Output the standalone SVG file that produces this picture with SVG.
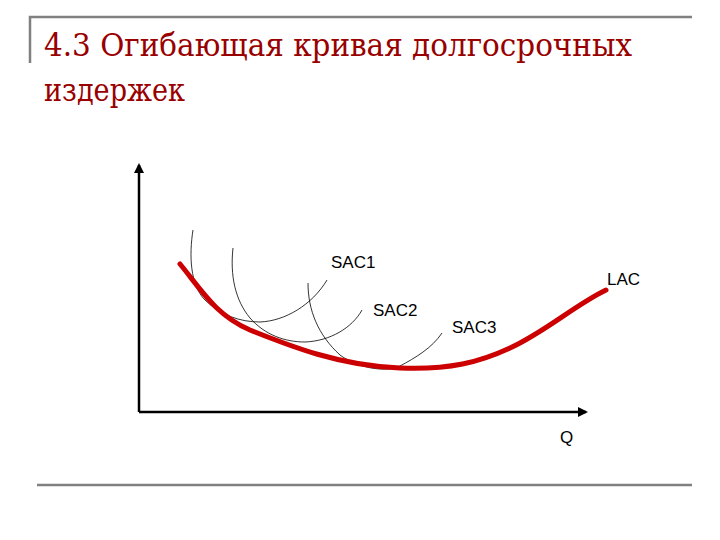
<svg xmlns="http://www.w3.org/2000/svg" width="720" height="540" viewBox="0 0 720 540">
<defs>
<style>
.title{font-family:'DejaVu Serif','Liberation Serif',serif;font-size:31px;fill:#990000}
.lbl{font-family:'Liberation Sans',Arial,sans-serif;font-size:17px;fill:#000}
.frame{stroke:#808080;stroke-width:2.5;fill:none}
.axis{stroke:#000;stroke-width:2.5;fill:none}
.sac{stroke:#000;stroke-width:0.8;fill:none}
.lac{stroke:#cc0000;stroke-width:5;fill:none;stroke-linecap:round}
</style>
<marker id="arr" viewBox="0 0 10 10" refX="8" refY="5" markerWidth="4" markerHeight="4" orient="auto"><path d="M0,0 L10,5 L0,10 Z" fill="#000"/></marker>
</defs>
<rect width="720" height="540" fill="#fff"/>
<g id="frame">
<path class="frame" d="M30,63 V17 H692"/>
<path class="frame" d="M37,485 H692"/>
</g>
<g id="title">
<text class="title" x="44" y="56" textLength="588" lengthAdjust="spacingAndGlyphs">4.3 Огибающая кривая долгосрочных</text>
<text class="title" x="44" y="101" textLength="141" lengthAdjust="spacingAndGlyphs">издержек</text>
</g>
<g id="connectors">
<path class="axis" d="M139,412 V165" marker-end="url(#arr)"/>
<path class="axis" d="M139,412 H586" marker-end="url(#arr)"/>
</g>
<g id="SAC1">
<path class="sac" d="M193,230 C189,255 190,285 205,300 C220,315 240,322 260,322 C285,321 312,305 327,280"/>
<text class="lbl" x="331" y="268">SAC1</text>
</g>
<g id="SAC2">
<path class="sac" d="M233,248 C230,275 235,300 250,318 C265,335 285,342 305,342 C330,341 352,328 362,310"/>
<text class="lbl" x="373" y="316">SAC2</text>
</g>
<g id="SAC3">
<path class="sac" d="M308,283 C308,310 318,335 340,355 C360,370 390,372 400,366 C415,358 432,348 442,333"/>
<text class="lbl" x="452" y="333">SAC3</text>
</g>
<g id="LAC">
<path class="lac" d="M180,264 C200,288 215,315 250,330 C290,346 340,366 400,368 C450,370 480,362 510,348 C545,332 575,305 606,290"/>
<text class="lbl" x="607" y="285">LAC</text>
</g>
<g id="Q">
<text class="lbl" x="560" y="443">Q</text>
</g>
</svg>
